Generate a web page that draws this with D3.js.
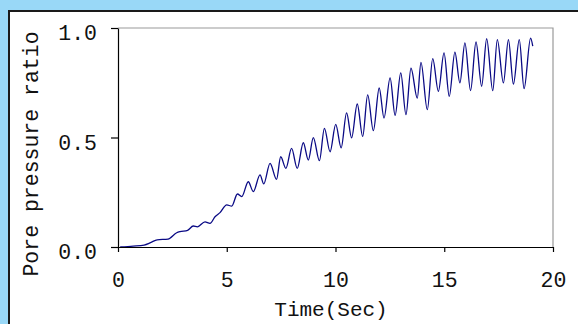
<!DOCTYPE html>
<html>
<head>
<meta charset="utf-8">
<style>
  body { margin: 0; background: #99d8f7; }
  svg { display: block; }
  text { font-family: "Courier New", "Liberation Mono", monospace; fill: #111; }
</style>
</head>
<body>
<svg width="578" height="324"></svg>

<script src="https://d3js.org/d3.v7.min.js"></script>
<script>
  // time in seconds (peaks and troughs of the trace)
  const times = [0.1, 0.7, 1.2, 1.5, 1.8, 2.3, 2.7, 2.85, 3.2, 3.46, 3.65, 4.0, 4.23, 4.46, 4.69,
    5.0, 5.23, 5.49, 5.69, 5.99, 6.22, 6.53, 6.7, 6.99, 7.29, 7.48, 7.72, 7.98, 8.24, 8.52, 8.75,
    8.98, 9.26, 9.49, 9.75, 10.01, 10.26, 10.51, 10.74, 11.0, 11.25, 11.48, 11.74, 12.01, 12.23,
    12.51, 12.74, 13.0, 13.24, 13.47, 13.76, 13.93, 14.22, 14.47, 14.73, 14.99, 15.23, 15.49,
    15.72, 15.95, 16.21, 16.46, 16.72, 16.95, 17.23, 17.44, 17.72, 17.95, 18.18, 18.45, 18.67,
    18.97, 19.07];

  // pore pressure ratio at those times
  const ratios = [0, 0.004, 0.009, 0.02, 0.033, 0.036, 0.065, 0.07, 0.076, 0.096, 0.092, 0.115,
    0.108, 0.138, 0.157, 0.192, 0.187, 0.242, 0.23, 0.298, 0.253, 0.329, 0.288, 0.382, 0.309,
    0.412, 0.359, 0.45, 0.359, 0.476, 0.397, 0.499, 0.394, 0.542, 0.435, 0.56, 0.453, 0.612,
    0.498, 0.653, 0.505, 0.695, 0.531, 0.726, 0.589, 0.772, 0.601, 0.795, 0.604, 0.817, 0.68,
    0.843, 0.627, 0.86, 0.711, 0.886, 0.688, 0.89, 0.749, 0.932, 0.714, 0.936, 0.734, 0.951,
    0.714, 0.947, 0.749, 0.947, 0.744, 0.947, 0.723, 0.954, 0.917];

  const xTicks = [0, 5, 10, 15, 20];
  const yTicks = [0, 0.5, 1.0];

  const svg = d3.select("svg");

  // white panel with dark frame
  svg.append("rect")
    .attr("x", 9).attr("y", 11)
    .attr("width", 620).attr("height", 400)
    .attr("fill", "#fff")
    .attr("stroke", "#1a1a1a")
    .attr("stroke-width", 2);

  const plotL = 118, plotR = 553, plotT = 28, plotB = 247;

  const x = d3.scaleLinear().domain([0, 20]).range([plotL, plotR]);
  const y = d3.scaleLinear().domain([0, 1]).range([plotB, plotT]);

  // grey top and right edges of the plot area
  svg.append("path")
    .attr("d", `M${plotL},${plotT}H${plotR}V${plotB}`)
    .attr("fill", "none")
    .attr("stroke", "#9a9a9a")
    .attr("stroke-width", 1.2);

  // trace
  const line = d3.line()
    .x((d, i) => x(times[i]))
    .y(d => y(d))
    .curve(d3.curveMonotoneX);

  svg.append("path")
    .datum(ratios)
    .attr("d", line)
    .attr("fill", "none")
    .attr("stroke", "#0a0a85")
    .attr("stroke-width", 1.3);

  // axes
  const xAxis = svg.append("g")
    .attr("transform", `translate(0,${plotB})`)
    .call(d3.axisBottom(x).tickValues(xTicks).tickSize(5).tickSizeOuter(0).tickFormat(d3.format("d")));

  const yAxis = svg.append("g")
    .attr("transform", `translate(${plotL},0)`)
    .call(d3.axisLeft(y).tickValues(yTicks).tickSize(7).tickSizeOuter(0).tickFormat(d3.format(".1f")));

  [xAxis, yAxis].forEach(g => {
    g.select(".domain").attr("stroke", "#000").attr("stroke-width", 1.2);
    g.selectAll(".tick line").attr("stroke", "#000").attr("stroke-width", 1.2);
    g.selectAll("text")
      .style("font-family", '"Courier New", "Liberation Mono", monospace')
      .style("font-size", "21.5px")
      .attr("fill", "#111");
  });

  xAxis.selectAll("text").attr("y", 40).attr("dy", 0);
  yAxis.selectAll("text").attr("x", -21).attr("dy", 11.5);

  // axis titles
  svg.append("text")
    .attr("x", 331).attr("y", 316)
    .attr("text-anchor", "middle")
    .style("font-size", "21px")
    .text("Time(Sec)");

  svg.append("text")
    .attr("transform", "translate(38,154) rotate(-90)")
    .attr("text-anchor", "middle")
    .style("font-size", "21.5px")
    .text("Pore pressure ratio");
</script>
</body>
</html>
